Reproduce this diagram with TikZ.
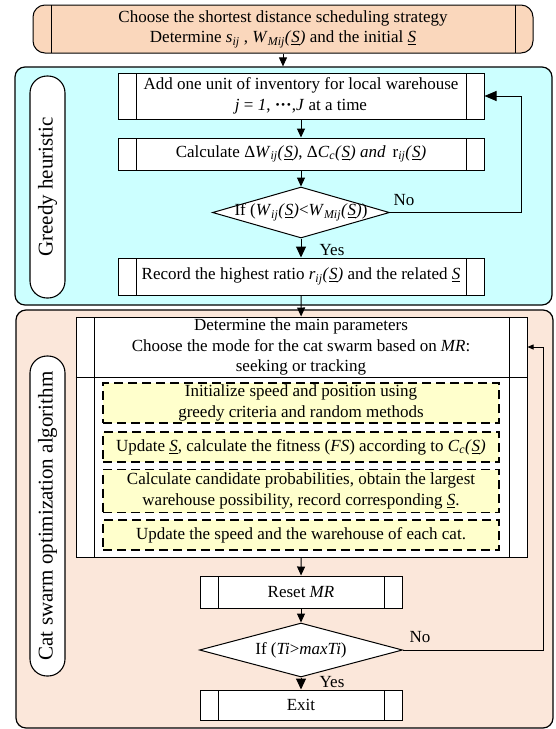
\documentclass[tikz,border=0pt]{standalone}
\usepackage{fontspec}
\setmainfont{Liberation Serif}
\usepackage{xcolor}
\usetikzlibrary{arrows.meta,shapes.geometric}
\definecolor{peach}{RGB}{250,215,188}
\definecolor{skyfill}{RGB}{204,255,255}
\definecolor{catfill}{RGB}{251,231,218}
\definecolor{notefill}{RGB}{255,255,204}
\newcommand{\uS}{\underline{\textit{S}}}
\newcommand{\ssub}[1]{\textsubscript{\itshape #1}}

\begin{document}
\begin{tikzpicture}[x=1pt,y=-1pt,font=\fontsize{17}{20.5}\selectfont,
  region/.style={draw=black,line width=1.2pt,rounded corners=10pt,inner sep=0pt},
  pill/.style={draw=black,fill=white,line width=1.1pt,rounded corners=17pt,rotate=90,
    minimum height=35pt,inner sep=0pt,font=\fontsize{21}{24}\selectfont},
  proc/.style={draw=black,fill=white,line width=1pt,inner sep=0pt,align=center,
    path picture={
      \draw[line width=1pt] ([xshift=18pt]path picture bounding box.north west)
        -- ([xshift=18pt]path picture bounding box.south west);
      \draw[line width=1pt] ([xshift=-18pt]path picture bounding box.north east)
        -- ([xshift=-18pt]path picture bounding box.south east);}},
  decision/.style={diamond,draw=black,fill=white,line width=1pt,inner sep=0pt},
  note/.style={draw=black,fill=notefill,line width=1.3pt,dash pattern=on 9pt off 5pt,
    minimum width=396pt,inner sep=0pt,align=center},
  flow/.style={-{Triangle[length=9pt,width=8pt]},line width=1pt},
  bigflow/.style={-{Triangle[length=11pt,width=10pt]},line width=1pt},
  back/.style={-{Triangle[length=6pt,width=5pt]},line width=.8pt}
]
 \path[use as bounding box] (0,0) rectangle (555,729);

 % Background panels of the two stages
 \node[region,fill=skyfill,minimum width=537pt,minimum height=238pt] (greedy) at (283.5,186) {};
 \node[region,fill=catfill,minimum width=537pt,minimum height=418pt] (cats) at (284.5,519) {};
 \node[pill,minimum width=222pt] (greedylab) at (47.5,187) {Greedy heuristic};
 \node[pill,minimum width=320pt] (catlab) at (47.5,516) {Cat swarm optimization algorithm};

 % Start
 \node[proc,fill=peach,rounded corners=12pt,minimum width=500pt,minimum height=48pt] (top) at (283,29)
   {Choose the shortest distance scheduling strategy\\
    Determine \textit{s}\ssub{ij} , \textit{W}\ssub{Mij}\textit{(}\uS\textit{)} and the initial \uS};

 % Greedy stage
 \node[proc,minimum width=366pt,minimum height=46pt] (add) at (301,96)
   {Add one unit of inventory for local warehouse\\
    \textit{j} = \textit{1}, \textbf{···},\textit{J} at a time};
 \node[proc,minimum width=366pt,minimum height=32pt] (calc) at (301,154)
   {Calculate Δ\textit{W}\ssub{ij}\textit{(}\uS\textit{)}, Δ\textit{C}\ssub{c}\textit{(}\uS\textit{)} \textit{and}\, r\ssub{ij}\textit{(}\uS\textit{)}};
 \node[decision,minimum width=177pt,minimum height=51pt] (test) at (301,212.5) {};
 \node (testtxt) at (test) {If (\textit{W}\ssub{ij}\textit{(}\uS\textit{)}<\textit{W}\ssub{Mij}\textit{(}\uS\textit{)})};
 \node[proc,minimum width=366pt,minimum height=37pt] (record) at (301,276.5)
   {Record the highest ratio \textit{r}\ssub{ij}\textit{(}\uS\textit{)} and the related \uS};

 % Cat swarm stage
 \node[proc,minimum width=451pt,minimum height=240pt] (frame) at (301.5,437) {};
 \draw[line width=1pt] (frame.west |- 0,377) -- (frame.east |- 0,377);
 \node[align=center] (params) at (301,347)
   {Determine the main parameters\\
    Choose the mode for the cat swarm based on \textit{MR}:\\
    seeking or tracking};
 \node[note,minimum height=40pt] (init) at (301,403)
   {Initialize speed and position using\\ greedy criteria and random methods};
 \node[note,minimum height=30pt] (fit) at (301,447)
   {Update \uS, calculate the fitness (\textit{FS}) according to \textit{C}\ssub{c}\textit{(}\uS\textit{)}};
 \node[note,minimum height=43pt] (prob) at (301,491)
   {Calculate candidate probabilities, obtain the largest\\ warehouse possibility, record corresponding \uS.};
 \node[note,minimum height=30pt] (move) at (301,535)
   {Update the speed and the warehouse of each cat.};
 \node[proc,minimum width=202pt,minimum height=32pt] (reset) at (301,592) {Reset \textit{MR}};
 \node[decision,minimum width=203pt,minimum height=54pt] (stop) at (301,650) {};
 \node (stoptxt) at (stop) {If (\textit{Ti}>\textit{maxTi})};
 \node[proc,minimum width=202pt,minimum height=30pt] (exit) at (301,705) {Exit};

 % Connectors
 \coordinate (loopa) at (521,0);
 \coordinate (loopb) at (543,0);
 \draw[flow] (top.south) -- (top.south |- greedy.north);
 \draw[flow] (add) -- (calc);
 \draw[flow] (calc) -- (test);
 \draw[bigflow] (test) -- (record);
 \draw[line width=1pt,-{Triangle[length=12pt,width=10pt]}] (test.east) -- (test.east -| loopa) |- (add.east);
 \draw[flow] (record) -- (frame);
 \draw[flow] (frame) -- (reset);
 \draw[flow] (reset) -- (stop);
 \draw[bigflow] (stop) -- (exit);
 \draw[back] (stop.east) -- (stop.east -| loopb) |- ([yshift=90pt]frame.east);

 \node[anchor=west] (noa) at (390,200) {No};
 \node[anchor=west] (nob) at (406,637) {No};
 \node (yesa) at (332,250) {Yes};
 \node (yesb) at (332,682) {Yes};
\end{tikzpicture}
\end{document}
